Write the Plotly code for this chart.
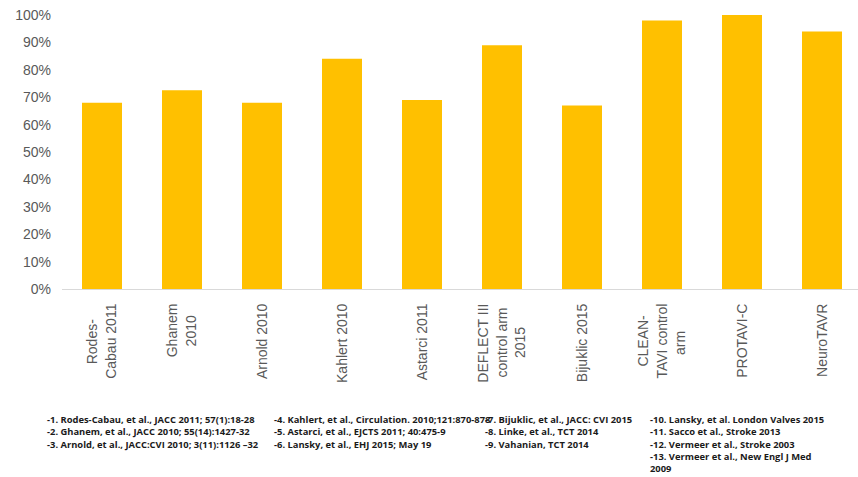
import plotly.graph_objects as go

categories = ["Rodes-<br>Cabau 2011", "Ghanem<br>2010", "Arnold 2010", "Kahlert 2010",
              "Astarci 2011", "DEFLECT III<br>control arm<br>2015", "Bijuklic 2015",
              "CLEAN-<br>TAVI control<br>arm", "PROTAVI-C", "NeuroTAVR"]
values = [0.68, 0.725, 0.68, 0.84, 0.69, 0.89, 0.67, 0.98, 1.00, 0.94]

refs_col1 = ["-1. Rodes-Cabau, et al., JACC 2011; 57(1):18-28",
             "-2. Ghanem, et al., JACC 2010; 55(14):1427-32",
             "-3. Arnold, et al., JACC:CVI 2010; 3(11):1126 –32"]
refs_col2 = ["-4. Kahlert, et al., Circulation. 2010;121:870-878",
             "-5. Astarci, et al., EJCTS 2011; 40:475-9",
             "-6. Lansky, et al., EHJ 2015; May 19"]
refs_col3 = ["-7. Bijuklic, et al., JACC: CVI 2015",
             "-8. Linke, et al., TCT 2014",
             "-9. Vahanian, TCT 2014"]
refs_col4 = ["-10. Lansky, et al. London Valves 2015",
             "-11. Sacco et al., Stroke 2013",
             "-12. Vermeer et al., Stroke 2003",
             "-13. Vermeer et al., New Engl J Med",
             "2009"]

W, H = 858, 477
ML, MR, MT, MB = 62, 0, 15, 188
PW = W - ML - MR
PH = H - MT - MB
FONT = "Liberation Sans"
LAB_SIZE = 14

# approximate Arial/Liberation Sans advance widths (per em) used to centre the
# lines of the rotated multi-line category labels
_W = {" ": .278, "-": .333, "A": .667, "C": .722, "D": .722, "E": .667, "F": .611,
      "G": .778, "I": .278, "K": .667, "L": .556, "N": .722, "O": .778, "P": .667,
      "R": .722, "T": .611, "U": .722, "V": .667, "a": .556, "b": .556, "c": .5,
      "d": .556, "e": .556, "h": .556, "i": .222, "j": .222, "k": .5, "l": .222,
      "m": .833, "n": .556, "o": .556, "r": .333, "s": .5, "t": .278, "u": .556}
NBSP = "\u00a0"

def em_w(s):
    return sum(_W.get(ch, .556) for ch in s)

def centred(label):
    lines = label.split("<br>")
    if len(lines) == 1:
        return label
    longest = max(em_w(l) for l in lines)
    out = []
    for l in lines:
        pad = int(round((longest - em_w(l)) / 2 / _W[" "]))
        out.append(NBSP * pad + l + NBSP * pad)
    return "<br>".join(out)

ticktext = [centred(c) for c in categories]

fig = go.Figure()
fig.add_trace(go.Bar(x=categories, y=values, marker_color="#FFC000",
                     marker_line_width=0))

def px_to_paper(px, py):
    return (px - ML) / PW, (H - MB - py) / PH

col_x = [45, 272, 483, 648]
row_y = [419, 431.5, 444, 456.5, 469]
for cx, col in zip(col_x, [refs_col1, refs_col2, refs_col3, refs_col4]):
    for i, txt in enumerate(col):
        x, y = px_to_paper(cx, row_y[i])
        fig.add_annotation(x=x, y=y, xref="paper", yref="paper",
                           text="<b>" + txt + "</b>",
                           showarrow=False, xanchor="left", yanchor="middle",
                           font=dict(family="Open Sans", size=9.4, color="#1a1a1a"))

fig.update_layout(
    width=W, height=H,
    margin=dict(l=ML, r=MR, t=MT, b=MB, pad=0),
    paper_bgcolor="white", plot_bgcolor="white",
    bargap=0.5, showlegend=False,
    font=dict(family=FONT, size=14, color="#595959"),
)
fig.update_xaxes(range=[-0.5, 9.45], showline=True, tickangle=-90,
                 tickmode="array", tickvals=categories, ticktext=ticktext,
                 tickfont=dict(family=FONT, size=LAB_SIZE, color="#595959"),
                 ticklabelstandoff=8,
                 linecolor="#D9D9D9", linewidth=1, ticks="", showgrid=False)
fig.update_yaxes(range=[0, 1], dtick=0.1, tickformat=".0%", showgrid=False,
                 zeroline=False, showline=False, ticks="",
                 ticklabelstandoff=10,
                 tickfont=dict(family=FONT, size=14, color="#595959"))

fig.write_html("out.html")
